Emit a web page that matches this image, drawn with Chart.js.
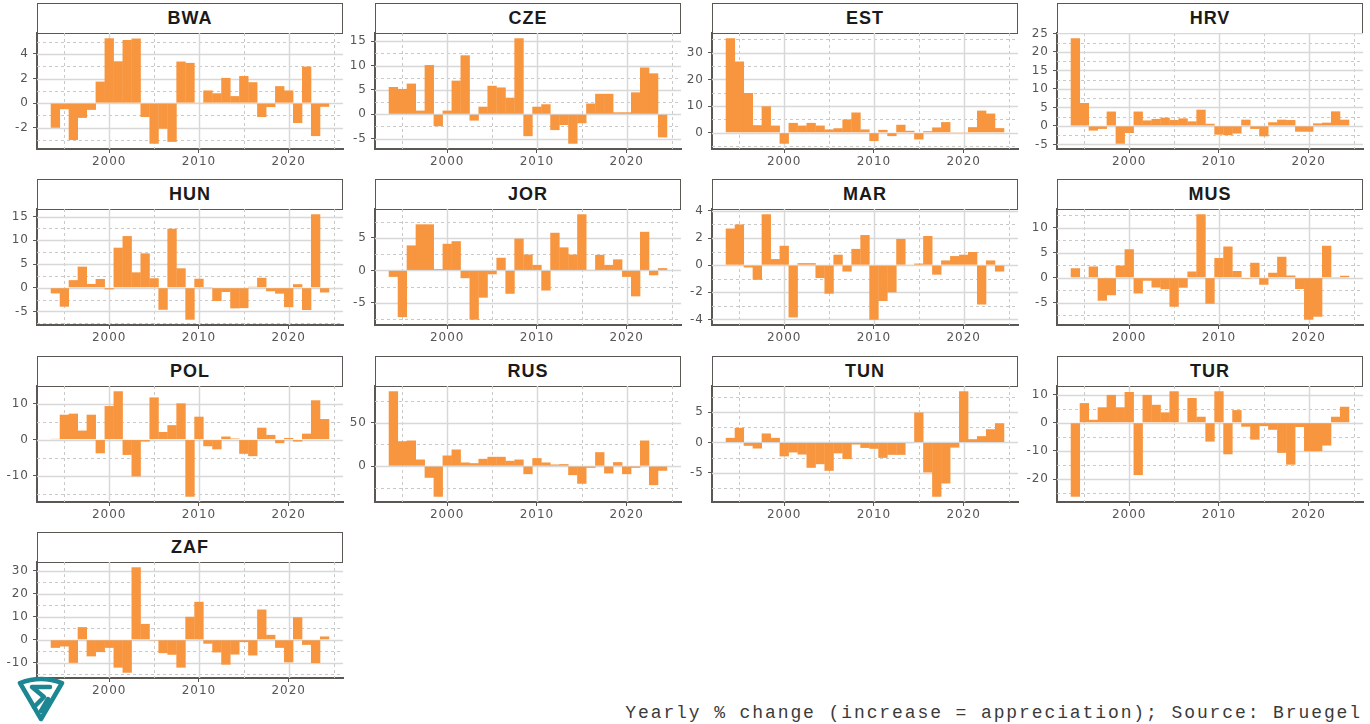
<!DOCTYPE html>
<html>
<head>
<meta charset="utf-8">
<script src="https://cdn.jsdelivr.net/npm/chart.js@4.4.1/dist/chart.umd.min.js"></script>
<style>
  body { margin: 0; background: #fff; width: 1370px; height: 724px; overflow: hidden; position: relative; font-family: "Liberation Sans", Arial, sans-serif; }
  .strip { position: absolute; box-sizing: border-box; height: 31px; border: 1.5px solid #5b5752; background: #fff;
           text-align: center; font-weight: bold; font-size: 18px; letter-spacing: 1px; line-height: 28px; color: #1a1a1a; }
  canvas { position: absolute; }
  #note { position: absolute; right: 8px; top: 703px; font-family: "Liberation Mono", monospace; font-size: 18px;
          letter-spacing: 1.9px; color: #3a3a3a; white-space: nowrap; }
  #logo { position: absolute; left: 14px; top: 673px; }
</style>
</head>
<body>
<div id="note">Yearly % change (increase = appreciation); Source: Bruegel</div>

<script>
// years on the x axis
const years = [1994, 1995, 1996, 1997, 1998, 1999, 2000, 2001, 2002, 2003, 2004, 2005, 2006, 2007, 2008, 2009,
               2010, 2011, 2012, 2013, 2014, 2015, 2016, 2017, 2018, 2019, 2020, 2021, 2022, 2023, 2024];
const yearTicks = [2000, 2010, 2020];
const yearMinor = [1995, 2005, 2015, 2025];

const countries = ['BWA', 'CZE', 'EST', 'HRV', 'HUN', 'JOR', 'MAR', 'MUS', 'POL', 'RUS', 'TUN', 'TUR', 'ZAF'];

// yearly % change, 1994..2024
const bwa = [-2.0, -0.5, -3.0, -1.2, -0.55, 1.75, 5.27, 3.4, 5.13, 5.25, -1.13, -3.3, -2.08, -3.15, 3.38, 3.27,
             0.05, 1.03, 0.8, 2.05, 0.57, 2.2, 1.7, -1.13, -0.32, 1.38, 1.03, -1.62, 2.97, -2.68, -0.3];
const cze = [5.6, 5.2, 6.3, 0.75, 10.1, -2.45, 0.75, 6.9, 12.1, -1.3, 1.55, 5.85, 5.5, 3.4, 15.6, -4.5,
             1.55, 2.05, -3.25, -2.2, -6.05, -1.85, 2.2, 4.2, 4.2, 0.4, 0.4, 4.5, 9.6, 8.4, -4.75];
const est = [35.4, 26.7, 14.9, 2.85, 9.9, 2.7, -4.1, 3.7, 2.7, 3.7, 2.7, 1.25, 1.7, 5.0, 7.6, 1.25,
             -3.1, 1.1, -1.25, 3.0, 0.75, -2.5, 0.6, 2.0, 4.0, 0.1, 0.1, 2.1, 8.3, 7.2, 1.75];
const hrv = [23.7, 6.2, -1.25, -0.8, 3.9, -4.8, -1.9, 3.9, 1.5, 1.9, 2.25, 1.6, 2.05, 1.25, 4.4, 0.6,
             -2.35, -2.5, -2.05, 1.7, -0.8, -2.8, 1.0, 1.7, 1.6, -1.55, -1.55, 0.7, 0.9, 3.95, 1.7];
const hun = [-1.2, -4.0, 1.6, 4.45, 0.8, 1.85, -0.35, 8.45, 10.9, 3.25, 7.25, 2.0, -4.65, 12.45, 4.1, -6.75,
             1.9, 0.05, -2.8, -0.9, -4.35, -4.3, 0.2, 2.1, -0.75, -1.25, -4.1, 0.75, -4.7, 15.5, -1.0];
const jor = [-1.0, -7.2, 3.85, 7.1, 7.1, 0.2, 4.1, 4.5, -1.2, -7.6, -4.2, -0.6, 1.95, -3.6, 4.9, 2.45,
             0.85, -3.1, 5.8, 3.55, 2.45, 8.65, 0.05, 2.4, 0.85, 1.7, -1.0, -4.0, 5.95, -0.75, 0.35];
const mar = [2.7, 3.0, -0.17, -1.08, 3.75, 0.45, 1.43, -3.85, 0.15, 0.15, -0.95, -2.1, 0.77, -0.47, 1.2, 2.22,
             -4.02, -2.64, -2.0, 1.93, 0.03, 0.12, 2.15, -0.7, 0.35, 0.67, 0.77, 0.97, -2.9, 0.35, -0.47];
const mus = [1.9, 0.05, 2.25, -4.6, -3.5, 2.45, 5.7, -3.15, -0.6, -1.95, -2.3, -5.8, -2.0, 1.25, 12.7, -5.2,
             3.95, 6.25, 1.35, -0.2, 3.0, -1.4, 1.0, 4.2, 0.45, -2.25, -8.4, -7.8, 6.4, 0.15, 0.4];
const pol = [0.2, 6.9, 7.2, 2.5, 6.9, -3.8, 9.3, 13.4, -4.25, -10.2, -0.55, 11.7, 2.1, 4.0, 10.05, -15.85,
             6.35, -1.85, -2.7, 0.85, 0.3, -3.95, -4.6, 3.3, 1.3, -1.0, 0.45, -0.55, 1.65, 10.9, 5.7];
const rus = [85.9, 28.6, 29.4, 7.6, -13.4, -35.1, 12.2, 19.1, 4.2, 3.4, 8.4, 10.7, 10.7, 6.1, 7.6, -9.2,
             9.2, 4.2, 1.9, 2.3, -10.3, -20.2, -1.9, 16.0, -8.4, 4.6, -9.2, -1.9, 29.4, -21.8, -5.3];
const tun = [0.77, 2.43, -0.55, -1.0, 1.5, 0.77, -2.3, -1.65, -2.0, -4.2, -3.6, -4.7, -1.8, -2.75, -0.33, -0.9,
             -1.05, -2.55, -2.05, -2.05, -0.1, 4.97, -4.97, -9.0, -6.8, -0.85, 8.5, 0.55, 1.05, 2.2, 3.2];
const tur = [-26.3, 7.0, 1.07, 5.5, 9.9, 5.5, 10.95, -18.6, 9.9, 6.4, 3.7, 11.2, 0.25, 8.8, 2.15, -6.7,
             11.2, -11.2, 4.5, -1.4, -6.0, -1.2, -2.5, -10.7, -14.9, -1.5, -10.1, -10.1, -8.1, 2.15, 5.7];
const zaf = [-3.5, -2.9, -10.0, 5.5, -7.2, -5.35, -3.5, -12.1, -14.3, 31.5, 6.9, -0.1, -5.8, -6.5, -12.1, 10.0,
             16.5, -1.7, -5.5, -10.8, -6.4, -1.0, -6.8, 13.15, 2.15, -3.5, -9.8, 9.8, -2.2, -10.1, 1.45];

// labelled y ticks of each panel
const bwaTicks = [-2, 0, 2, 4];
const czeTicks = [-5, 0, 5, 10, 15];
const estTicks = [0, 10, 20, 30];
const hrvTicks = [-5, 0, 5, 10, 15, 20, 25];
const hunTicks = [-5, 0, 5, 10, 15];
const jorTicks = [-5, 0, 5];
const marTicks = [-4, -2, 0, 2, 4];
const musTicks = [-5, 0, 5, 10];
const polTicks = [-10, 0, 10];
const rusTicks = [0, 50];
const tunTicks = [-5, 0, 5];
const turTicks = [-20, -10, 0, 10];
const zafTicks = [-10, 0, 10, 20, 30];

const series = { BWA: bwa, CZE: cze, EST: est, HRV: hrv, HUN: hun, JOR: jor, MAR: mar,
                 MUS: mus, POL: pol, RUS: rus, TUN: tun, TUR: tur, ZAF: zaf };
const tickSets = { BWA: bwaTicks, CZE: czeTicks, EST: estTicks, HRV: hrvTicks, HUN: hunTicks, JOR: jorTicks,
                   MAR: marTicks, MUS: musTicks, POL: polTicks, RUS: rusTicks, TUN: tunTicks, TUR: turTicks, ZAF: zafTicks };

// layout
const colLeft = [37, 375, 712, 1057];
const rowTop = [3, 179, 356, 532];
const plotW = 306, plotH = 116, stripH = 30;
const AXW = 40, AXH = 28, PADT = 8, PADR = 6;
const barColor = '#f7963f';
const axisColor = '#5b5752';
const tickFont = { family: 'DejaVu Sans', size: 12 };

// ggplot style grid: solid majors, dashed minors, under the bars
function makeGrid(majorY, minorY) {
  return {
    id: 'ggGrid',
    beforeUpdate(chart) { chart.ctx.letterSpacing = '1px'; },
    beforeDraw(chart) { chart.ctx.letterSpacing = '1px'; },
    beforeDatasetsDraw(chart) {
      const { ctx, chartArea: a, scales: { x, y } } = chart;
      ctx.save();
      ctx.beginPath();
      ctx.rect(a.left, a.top, a.right - a.left, a.bottom - a.top);
      ctx.clip();
      const vline = v => { const p = Math.round(x.getPixelForValue(v)) + 0.5; ctx.beginPath(); ctx.moveTo(p, a.top); ctx.lineTo(p, a.bottom); ctx.stroke(); };
      const hline = v => { const p = Math.round(y.getPixelForValue(v)) + 0.5; ctx.beginPath(); ctx.moveTo(a.left, p); ctx.lineTo(a.right, p); ctx.stroke(); };
      ctx.strokeStyle = '#c9c9c9'; ctx.lineWidth = 1; ctx.setLineDash([3, 3]);
      yearMinor.forEach(vline); minorY.forEach(hline);
      ctx.setLineDash([]); ctx.strokeStyle = '#d8d8d8'; ctx.lineWidth = 1.5;
      yearTicks.forEach(vline); majorY.forEach(hline);
      ctx.restore();
    }
  };
}

const xlo = years[0] - 0.5, xhi = years[years.length - 1] + 0.5;
const xpad = (xhi - xlo) * 0.05;

countries.forEach((code, i) => {
  const col = i % 4, row = Math.floor(i / 4);
  const left = colLeft[col], top = rowTop[row];

  const strip = document.createElement('div');
  strip.className = 'strip';
  strip.textContent = code;
  strip.style.left = left + 'px';
  strip.style.top = top + 'px';
  strip.style.width = plotW + 'px';
  document.body.appendChild(strip);

  const cv = document.createElement('canvas');
  cv.width = AXW + plotW + PADR;
  cv.height = PADT + plotH + AXH;
  cv.style.left = (left - AXW) + 'px';
  cv.style.top = (top + stripH - PADT) + 'px';
  document.body.appendChild(cv);

  const vals = series[code];
  const majors = tickSets[code];
  const lo = Math.min(0, ...vals), hi = Math.max(0, ...vals);
  const pad = (hi - lo) * 0.05;
  const ymin = lo - pad, ymax = hi + pad;
  const step = majors[1] - majors[0];
  const minors = [majors[0] - step / 2, ...majors.map(m => m + step / 2)].filter(v => v > ymin && v < ymax);

  new Chart(cv, {
    type: 'bar',
    data: {
      datasets: [{
        data: years.map((yr, k) => ({ x: yr, y: vals[k] })),
        backgroundColor: barColor,
        borderWidth: 0,
        barPercentage: 1.04,
        categoryPercentage: 1
      }]
    },
    options: {
      responsive: false,
      animation: false,
      devicePixelRatio: 1,
      layout: { padding: { top: PADT, right: PADR, left: 0, bottom: 0 } },
      plugins: { legend: { display: false }, tooltip: { enabled: false } },
      scales: {
        x: {
          type: 'linear',
          min: xlo - xpad,
          max: xhi + xpad,
          offset: false,
          grid: { display: true, drawOnChartArea: false, drawTicks: true, tickLength: 4, tickColor: axisColor, offset: false },
          border: { display: true, color: axisColor, width: 2 },
          ticks: { font: tickFont, color: '#555', padding: 2, maxRotation: 0, autoSkip: false, callback: v => String(v) },
          afterBuildTicks: s => { s.ticks = yearTicks.map(v => ({ value: v })); },
          afterFit: s => { s.height = AXH; s.paddingLeft = 0; s.paddingRight = 0; }
        },
        y: {
          min: ymin,
          max: ymax,
          grid: { display: true, drawOnChartArea: false, drawTicks: true, tickLength: 4, tickColor: axisColor },
          border: { display: true, color: axisColor, width: 2 },
          ticks: { font: tickFont, color: '#555', padding: 4, autoSkip: false, callback: v => String(v) },
          afterBuildTicks: s => { s.ticks = majors.map(v => ({ value: v })); },
          afterFit: s => { s.width = AXW; s.paddingTop = 0; s.paddingBottom = 0; }
        }
      }
    },
    plugins: [makeGrid(majors, minors)]
  });
});

// logo mark in the bottom-left corner
const logo = document.createElementNS('http://www.w3.org/2000/svg', 'svg');
logo.setAttribute('id', 'logo');
logo.setAttribute('width', '54');
logo.setAttribute('height', '50');
logo.innerHTML =
  '<g fill="none" stroke="#1c8792" stroke-width="4.5" stroke-linejoin="round" stroke-linecap="round">' +
  '<path d="M6 10 Q27 2 48 10 L27 46 Z"/>' +
  '<path d="M36 14 H18 L30 24 L20 34"/>' +
  '<path d="M34 26 L27 38"/>' +
  '</g>';
document.body.appendChild(logo);
</script>
</body>
</html>
